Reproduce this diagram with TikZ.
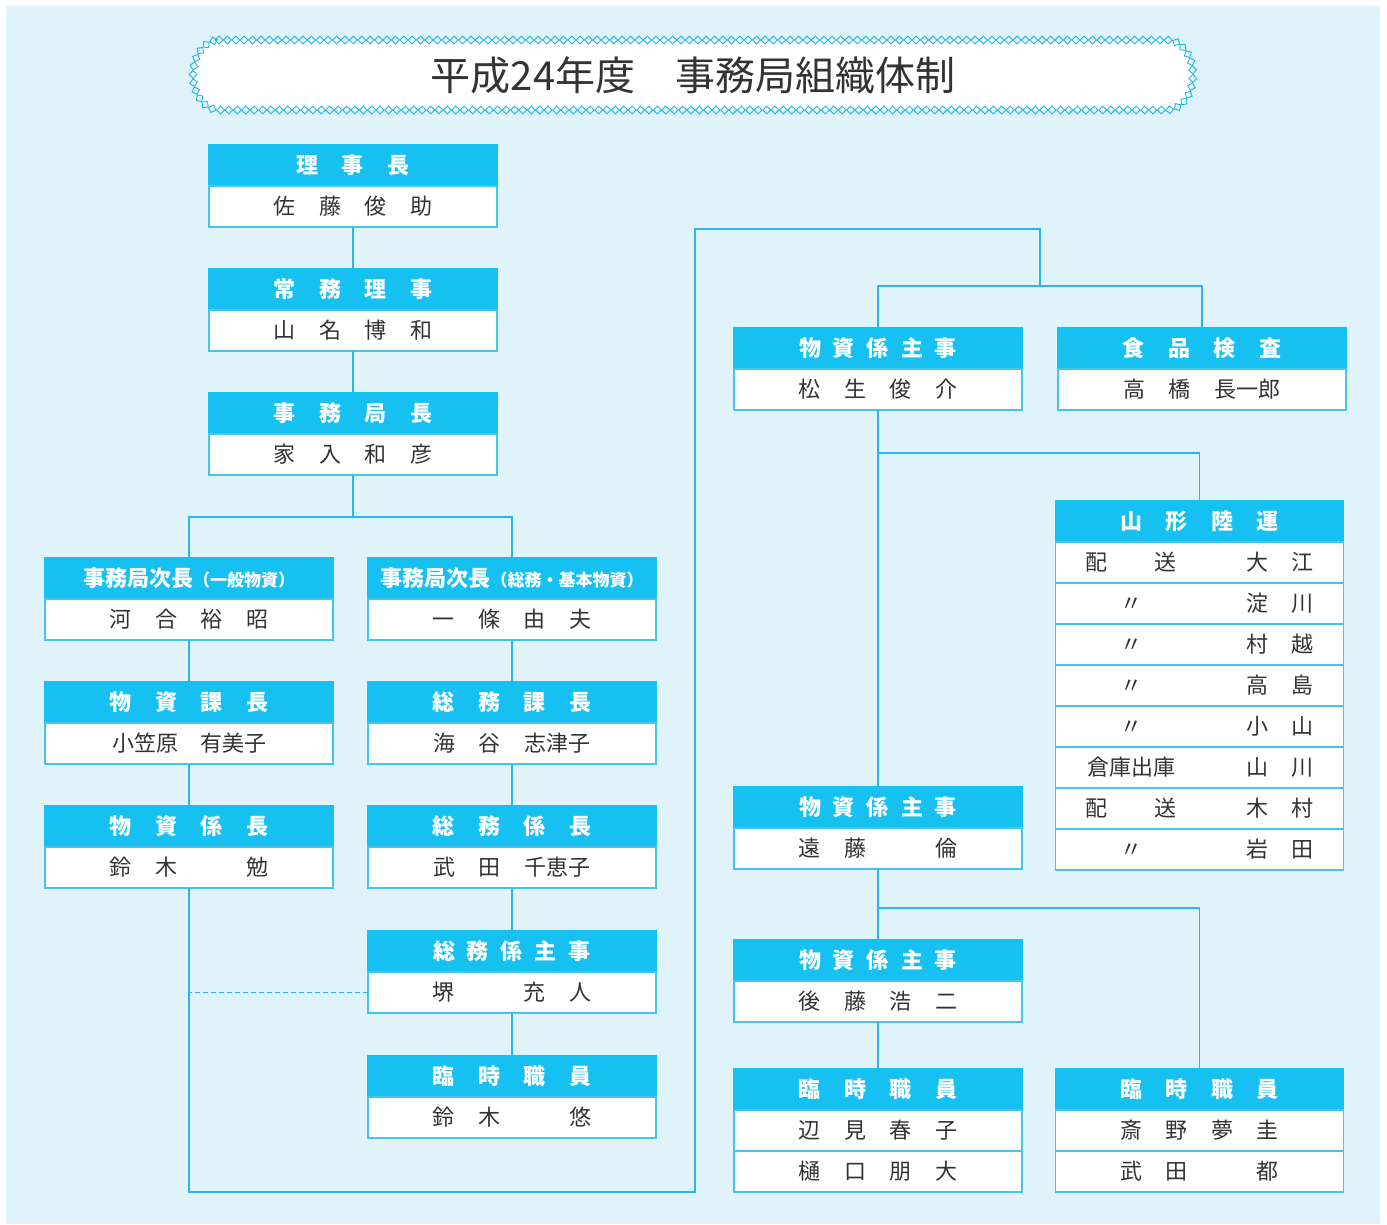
\documentclass[tikz,border=0pt]{standalone}
\usepackage{fontspec}
\newfontfamily\jp{Noto Sans CJK JP}
\usetikzlibrary{decorations.markings}
\definecolor{bgc}{RGB}{224,243,251}
\definecolor{hcyan}{RGB}{22,193,241}
\definecolor{bline}{RGB}{70,196,240}
\definecolor{lcol}{RGB}{40,183,235}
\definecolor{txt}{RGB}{51,51,51}
\definecolor{chainc}{RGB}{30,180,232}
\newcommand\gp{\hspace{23.6pt}}
\newcommand\gpp{\hspace{69.2pt}}
\newcommand\gs{\hspace{12pt}}
\newcommand\smtxt[1]{{\fontsize{17}{17}\selectfont #1}}
\newcommand\orgbox[5]{%
  \node[hdr] (#1h) at (#2,#3+20.5) {#4};
  \node[bdy,anchor=north] (#1) at (#1h.south) {#5};}
\newcommand\orgboxii[6]{%
  \orgbox{#1}{#2}{#3}{#4}{#5}
  \node[bdy,anchor=north] (#1b) at (#1.south) {#6};}
\newcommand\ymrow[4]{%
  \node[bdy,anchor=north] (#1) at (#2) {\makebox[288pt]{\hspace{30pt}\makebox[91pt]{#3}\hfill\makebox[67pt]{#4}\hspace{30pt}}};}
\tikzset{
  hdr/.style={draw=hcyan, fill=hcyan, text=white, line width=1.2pt, minimum height=41pt, minimum width=288pt, inner sep=0pt, outer sep=0pt, font=\jp\bfseries\fontsize{22}{22}\selectfont},
  bdy/.style={draw=bline, fill=white, text=txt, line width=1.4pt, minimum height=41pt, minimum width=288pt, inner sep=0pt, outer sep=0pt, font=\jp\fontsize{22}{22}\selectfont},
  link/.style={draw=lcol, line width=1.4pt},
  dashlink/.style={draw=lcol, line width=1.4pt, dash pattern=on 5pt off 3pt},
  chainmark/.style={decoration={markings, mark=between positions 0 and 1 step 8.4pt with {\draw[chainc, line width=0.9pt] (-3.9,0)--(0,3.9)--(3.9,0)--(0,-3.9)--cycle;}}}
}
\begin{document}
\begin{tikzpicture}[x=1pt,y=-1pt]
\useasboundingbox (0,0) rectangle (1387,1224);
\fill[white] (0,0) rectangle (1387,1224);
\fill[bgc] (6,6) rectangle (1380,1224);
% title
\path[fill=white, postaction={decorate, chainmark}] (219,40) -- (1167,40) arc[start angle=-90, end angle=90, x radius=26, y radius=35] -- (219,110) arc[start angle=90, end angle=270, x radius=26, y radius=35] -- cycle;
\node[text=txt, font=\jp\fontsize{40}{40}\selectfont, inner sep=0pt] (title) at (693,75) {平成24年度　事務局組織体制};
% left tree
\orgbox{rj}{353}{145}{理\gp{}事\gp{}長}{佐\gp{}藤\gp{}俊\gp{}助}
\orgbox{jm}{353}{269}{常\gp{}務\gp{}理\gp{}事}{山\gp{}名\gp{}博\gp{}和}
\orgbox{jk}{353}{393}{事\gp{}務\gp{}局\gp{}長}{家\gp{}入\gp{}和\gp{}彦}
\orgbox{ja}{189}{558}{事務局次長\smtxt{（一般物資）}}{河\gp{}合\gp{}裕\gp{}昭}
\orgbox{jb}{512}{558}{事務局次長\smtxt{（総務・基本物資）}}{一\gp{}條\gp{}由\gp{}夫}
\orgbox{bk}{189}{682}{物\gp{}資\gp{}課\gp{}長}{小笠原　有美子}
\orgbox{sk}{512}{682}{総\gp{}務\gp{}課\gp{}長}{海\gp{}谷\gp{}志津子}
\orgbox{bg}{189}{806}{物\gp{}資\gp{}係\gp{}長}{鈴\gp{}木\gpp{}勉}
\orgbox{sg}{512}{806}{総\gp{}務\gp{}係\gp{}長}{武\gp{}田\gp{}千恵子}
\orgbox{ss}{512}{931}{総\gs{}務\gs{}係\gs{}主\gs{}事}{堺\gpp{}充\gp{}人}
\orgbox{rl}{512}{1056}{臨\gp{}時\gp{}職\gp{}員}{鈴\gp{}木\gpp{}悠}
% right tree
\orgbox{ma}{878}{328}{物\gs{}資\gs{}係\gs{}主\gs{}事}{松\gp{}生\gp{}俊\gp{}介}
\orgbox{sh}{1202}{328}{食\gp{}品\gp{}検\gp{}査}{高\gp{}橋\gp{}長一郎}
\node[hdr] (ymh) at (1199.5,521.5) {山\gp{}形\gp{}陸\gp{}運};
\ymrow{y1}{ymh.south}{配\hfill{}送}{大\hfill{}江}
\ymrow{y2}{y1.south}{〃}{淀\hfill{}川}
\ymrow{y3}{y2.south}{〃}{村\hfill{}越}
\ymrow{y4}{y3.south}{〃}{高\hfill{}島}
\ymrow{y5}{y4.south}{〃}{小\hfill{}山}
\ymrow{y6}{y5.south}{倉庫出庫}{山\hfill{}川}
\ymrow{y7}{y6.south}{配\hfill{}送}{木\hfill{}村}
\ymrow{y8}{y7.south}{〃}{岩\hfill{}田}
\orgbox{mb}{878}{787}{物\gs{}資\gs{}係\gs{}主\gs{}事}{遠\gp{}藤\gpp{}倫}
\orgbox{mc}{878}{940}{物\gs{}資\gs{}係\gs{}主\gs{}事}{後\gp{}藤\gp{}浩\gp{}二}
\orgboxii{rm}{878}{1069}{臨\gp{}時\gp{}職\gp{}員}{辺\gp{}見\gp{}春\gp{}子}{樋\gp{}口\gp{}朋\gp{}大}
\orgboxii{rr}{1199.5}{1069}{臨\gp{}時\gp{}職\gp{}員}{斎\gp{}野\gp{}夢\gp{}圭}{武\gp{}田\gpp{}都}
% connectors
\coordinate (s1) at (353,517);
\coordinate (c1) at (695,1192);
\coordinate (c2) at (1040,229);
\coordinate (s2) at (1040,286);
\coordinate (b1) at (878,453);
\coordinate (b2) at (878,908);
\draw[link] (rj.south) -- (jmh.north);
\draw[link] (jm.south) -- (jkh.north);
\draw[link] (jk.south) -- (s1);
\draw[link] (jah.north) |- (s1) -| (jbh.north);
\draw[link] (ja.south) -- (bkh.north);
\draw[link] (bk.south) -- (bgh.north);
\draw[link] (bg.south) |- (c1) |- (c2) -- (s2);
\draw[link] (mah.north) |- (s2) -| (shh.north);
\draw[link] (jb.south) -- (skh.north);
\draw[link] (sk.south) -- (sgh.north);
\draw[link] (sg.south) -- (ssh.north);
\draw[link] (ss.south) -- (rlh.north);
\draw[dashlink] (ss.west) -- (ss.west -| bg.south);
\draw[link] (ma.south) -- (mbh.north);
\draw[link] (b1) -| (ymh.north);
\draw[link] (mb.south) -- (mch.north);
\draw[link] (b2) -| (rrh.north);
\draw[link] (mc.south) -- (rmh.north);
\end{tikzpicture}
\end{document}
